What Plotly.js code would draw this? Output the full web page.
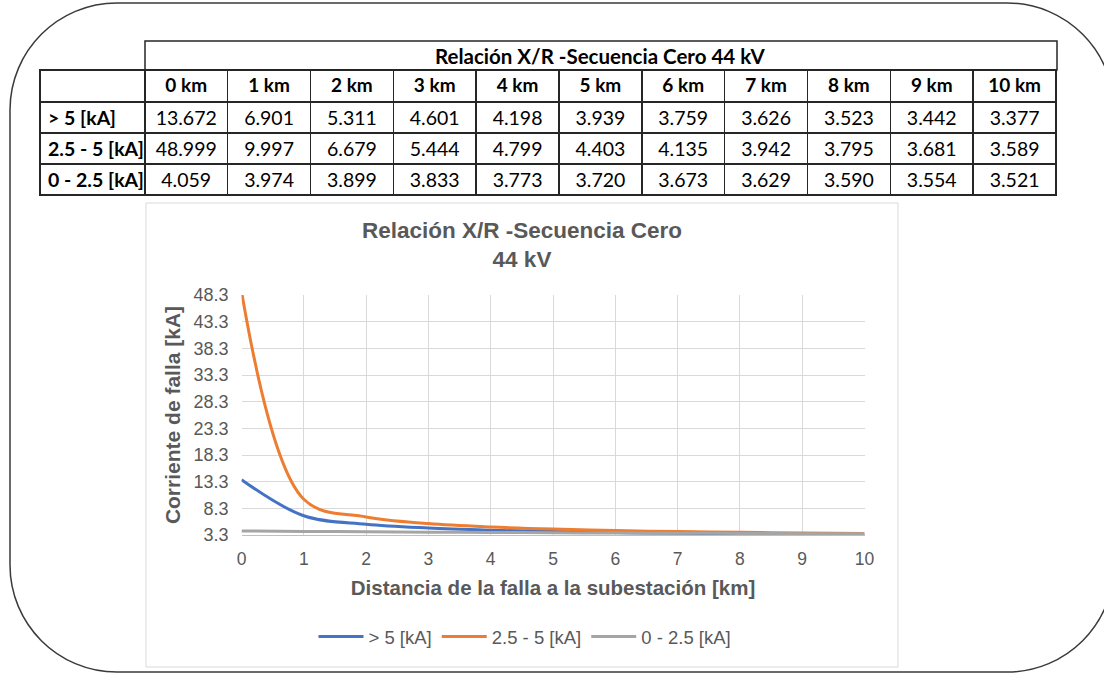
<!DOCTYPE html>
<html>
<head>
<meta charset="utf-8">
<script src="https://cdn.plot.ly/plotly-3.0.1.min.js"></script>
<style>
html, body { margin: 0; padding: 0; background: #ffffff; }
#chart { width: 1104px; height: 673px; }
</style>
</head>
<body>
<div id="chart"></div>
<script>
// ---------- data ----------
const distancesKm = [0, 1, 2, 3, 4, 5, 6, 7, 8, 9, 10];
const columnLabels = ['0 km', '1 km', '2 km', '3 km', '4 km', '5 km', '6 km', '7 km', '8 km', '9 km', '10 km'];
const seriesNames = ['> 5 [kA]', '2.5 - 5 [kA]', '0 - 2.5 [kA]'];
const seriesOver5 = [13.672, 6.901, 5.311, 4.601, 4.198, 3.939, 3.759, 3.626, 3.523, 3.442, 3.377];
const series25to5 = [48.999, 9.997, 6.679, 5.444, 4.799, 4.403, 4.135, 3.942, 3.795, 3.681, 3.589];
const series0to25 = [4.059, 3.974, 3.899, 3.833, 3.773, 3.720, 3.673, 3.629, 3.590, 3.554, 3.521];
const yTickValues = [3.3, 8.3, 13.3, 18.3, 23.3, 28.3, 33.3, 38.3, 43.3, 48.3];
const tableTitle = 'Relación X/R -Secuencia Cero 44 kV';
const chartTitle = 'Relación X/R -Secuencia Cero<br>44 kV';
const xAxisTitle = 'Distancia de la falla a la subestación [km]';
const yAxisTitle = 'Corriente de falla [kA]';

// ---------- helpers (pixel -> paper) ----------
const W = 1104, H = 673;
const px = x => x / W;
const py = y => 1 - y / H;
const nb = s => s.replace(/ /g, '\u00a0');

const seriesList = [seriesOver5, series25to5, series0to25];
const colors = ['#4472C4', '#ED7D31', '#A5A5A5'];

// ---------- table trace ----------
// a leading ">" is passed as a cell prefix so the table does not treat it as markup
const labelPrefix = seriesNames.map(n => (n[0] === '>' ? '>' : ''));
const labelBody = seriesNames.map(n => nb(n[0] === '>' ? n.slice(1) : n));
const headerValues = [''].concat(columnLabels.map(nb));
const cellValues = [labelBody];
const cellPrefix = [labelPrefix];
distancesKm.forEach((d, j) => {
  cellValues.push(seriesList.map(s => s[j].toFixed(3)));
  cellPrefix.push(seriesList.map(() => ''));
});
const colWidths = [105].concat(distancesKm.map(() => 83));

const tableFont = 'Lato, Carlito, sans-serif';
const tableTrace = {
  type: 'table',
  domain: { x: [px(40), px(1057)], y: [py(197), py(70)] },
  columnwidth: colWidths,
  header: {
    values: headerValues,
    align: 'center',
    height: 32,
    fill: { color: '#ffffff' },
    line: { color: '#262626', width: 1.5 },
    font: { family: tableFont, size: 19, color: '#000000', weight: 'bold' }
  },
  cells: {
    values: cellValues,
    prefix: cellPrefix,
    align: ['left'].concat(distancesKm.map(() => 'center')),
    height: 31,
    fill: { color: '#ffffff' },
    line: { color: '#262626', width: 1.5 },
    font: {
      family: tableFont, size: 19.5, color: '#000000',
      weight: ['bold'].concat(distancesKm.map(() => 'normal'))
    }
  }
};

// ---------- line traces ----------
const lineTraces = seriesList.map((s, i) => ({
  type: 'scatter',
  mode: 'lines',
  name: seriesNames[i],
  x: distancesKm,
  y: s,
  line: { color: colors[i], width: 3, shape: 'spline', smoothing: 1 },
  hoverinfo: 'skip'
}));

// ---------- outer rounded frame ----------
function roundedRectPath(x0, y0, x1, y1, r) {
  const k = 0.5523 * r;
  const P = (x, y) => px(x).toFixed(5) + ',' + py(y).toFixed(5);
  return 'M' + P(x0 + r, y0) +
    ' L' + P(x1 - r, y0) +
    ' C' + P(x1 - r + k, y0) + ' ' + P(x1, y0 + r - k) + ' ' + P(x1, y0 + r) +
    ' L' + P(x1, y1 - r) +
    ' C' + P(x1, y1 - r + k) + ' ' + P(x1 - r + k, y1) + ' ' + P(x1 - r, y1) +
    ' L' + P(x0 + r, y1) +
    ' C' + P(x0 + r - k, y1) + ' ' + P(x0, y1 - r + k) + ' ' + P(x0, y1 - r) +
    ' L' + P(x0, y0 + r) +
    ' C' + P(x0, y0 + r - k) + ' ' + P(x0 + r - k, y0) + ' ' + P(x0 + r, y0) + ' Z';
}

const txtFont = 'Liberation Sans, Arial, sans-serif';
const gray = '#595959';

const layout = {
  width: W,
  height: H,
  margin: { l: 0, r: 0, t: 0, b: 0, pad: 0 },
  paper_bgcolor: '#ffffff',
  plot_bgcolor: '#ffffff',
  title: {
    text: '<b>' + chartTitle + '</b>',
    x: px(522),
    xanchor: 'center',
    y: py(238),
    yanchor: 'middle',
    font: { family: txtFont, size: 22.5, color: gray }
  },
  xaxis: {
    domain: [px(241.5), px(864.5)],
    range: [0, 10],
    tickvals: distancesKm,
    ticktext: distancesKm.map(String),
    showgrid: true,
    gridcolor: '#d9d9d9',
    gridwidth: 1,
    zeroline: false,
    showline: true,
    linecolor: '#bfbfbf',
    linewidth: 1,
    ticks: '',
    ticklabelstandoff: 8,
    tickfont: { family: txtFont, size: 17.5, color: gray },
    title: { text: '<b>' + xAxisTitle + '</b>', font: { family: txtFont, size: 20.5, color: gray }, standoff: 12 },
    fixedrange: true
  },
  yaxis: {
    domain: [py(535), py(295)],
    range: [3.3, 48.3],
    tickvals: yTickValues,
    ticktext: yTickValues.map(v => v.toFixed(1)),
    showgrid: true,
    gridcolor: '#d9d9d9',
    gridwidth: 1,
    zeroline: false,
    showline: false,
    ticks: '',
    ticklabelstandoff: 12,
    tickfont: { family: txtFont, size: 18, color: gray },
    title: { text: '<b>' + yAxisTitle + '</b>', font: { family: txtFont, size: 21, color: gray }, standoff: 7 },
    fixedrange: true
  },
  showlegend: true,
  legend: {
    orientation: 'h',
    x: px(525),
    xanchor: 'center',
    y: py(637),
    yanchor: 'middle',
    font: { family: txtFont, size: 18.5, color: gray },
    itemwidth: 45,
    bgcolor: 'rgba(0,0,0,0)'
  },
  shapes: [
    {
      type: 'path', xref: 'paper', yref: 'paper',
      path: roundedRectPath(10, 3, 1114, 672, 107),
      line: { color: '#3a3a3a', width: 1.5 }, layer: 'below'
    },
    {
      type: 'rect', xref: 'paper', yref: 'paper',
      x0: px(146), x1: px(898), y0: py(667), y1: py(203),
      line: { color: '#d9d9d9', width: 1 }, layer: 'below'
    },
    {
      type: 'rect', xref: 'paper', yref: 'paper',
      x0: px(145), x1: px(1057), y0: py(70), y1: py(41),
      line: { color: '#262626', width: 1.5 }, layer: 'above'
    }
  ],
  annotations: [
    {
      xref: 'paper', yref: 'paper',
      x: px(600), y: py(56), xanchor: 'center', yanchor: 'middle',
      text: '<b>' + tableTitle + '</b>', showarrow: false,
      font: { family: tableFont, size: 20.5, color: '#000000' }
    }
  ]
};

Plotly.newPlot('chart', [tableTrace].concat(lineTraces), layout, { staticPlot: true, displayModeBar: false });
</script>
</body>
</html>
